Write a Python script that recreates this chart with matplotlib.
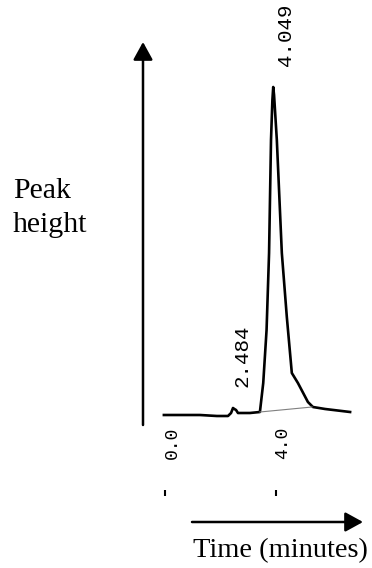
import numpy as np
import matplotlib
matplotlib.use('Agg')
import matplotlib.pyplot as plt
from matplotlib import transforms

# chromatogram trace (time in minutes, signal in arbitrary units)
time = [-0.04, 1.26, 1.87, 2.27, 2.38, 2.45, 2.50, 2.56, 2.63, 3.06, 3.42, 3.54,
        3.66, 3.75, 3.82, 3.87, 3.90, 3.93, 4.03, 4.21, 4.39, 4.57, 4.79, 5.15,
        5.33, 5.77, 6.67]
signal = [0, 0, -1, -1, 2, 7, 6, 5, 2, 2, 3, 32,
          85, 162, 275, 315, 328, 320, 275, 162, 98, 42, 32, 13,
          8, 6, 3]

# integration baseline under the main peak
base_time = [3.42, 5.30]
base_signal = [3, 8]

# retention times printed above the peaks
peak_times = [2.484, 4.049]
peak_labels = ['2.484', '4.049']

tick_values = [0, 4]
tick_labels = ['0.0', '4.0']

W, H = 372, 568
fig = plt.figure(figsize=(W / 100, H / 100), dpi=100)
ax = fig.add_axes([0, 0, 1, 1])
ax.axis('off')

# 27.75 px per minute, 1 px per signal unit; t=0 at x=165 px, signal 0 at y=415 px
px_per_min = 27.75
ax.set_xlim(-165 / px_per_min, (W - 165) / px_per_min)
ax.set_ylim(-(H - 415), 415)

ax.plot(time, signal, color='black', lw=1.9, solid_joinstyle='round')
ax.plot(base_time, base_signal, color='#808080', lw=0.8)

t_arr = np.array(time)
s_arr = np.array(signal)
for rt, lab in zip(peak_times, peak_labels):
    window = np.abs(t_arr - rt) < 0.2
    apex = s_arr[window].max()
    ax.annotate(lab, xy=(rt, apex), xytext=(5.8, 15), textcoords='offset points',
                rotation=90, ha='center', va='bottom', fontsize=15,
                family='Liberation Mono', color='black')

# tick labels sit above their tick marks, slightly to the right
blend = transforms.blended_transform_factory(ax.transData, fig.transFigure)
shift = transforms.ScaledTranslation(0.07, 0, fig.dpi_scale_trans)
for v, lab in zip(tick_values, tick_labels):
    ax.text(v, 1 - 459 / H, lab, transform=blend + shift, rotation=90,
            ha='center', va='bottom', fontsize=13, family='Liberation Mono')
    ax.plot([v, v], [1 - 490 / H, 1 - 496 / H], transform=blend,
            color='black', lw=1.5, solid_capstyle='butt')

arrow = dict(arrowstyle='-|>,head_length=0.4,head_width=0.22', color='black',
             lw=1.8, mutation_scale=27, shrinkA=0, shrinkB=0)
ax.annotate('', xy=(143 / W, 1 - 42 / H), xytext=(143 / W, 1 - 425 / H),
            xycoords='figure fraction', textcoords='figure fraction', arrowprops=arrow)
ax.annotate('', xy=(363 / W, 1 - 522 / H), xytext=(192 / W, 1 - 522 / H),
            xycoords='figure fraction', textcoords='figure fraction', arrowprops=arrow)

fig.text(13 / W, 1 - 198 / H, 'Peak', fontsize=21.5, family='Liberation Serif',
         ha='left', va='baseline')
fig.text(13 / W, 1 - 232 / H, 'height', fontsize=21.5, family='Liberation Serif',
         ha='left', va='baseline')
fig.text(280 / W, 1 - 557 / H, 'Time (minutes)', fontsize=20.5,
         family='Liberation Serif', ha='center', va='baseline')

fig.savefig('out.png', dpi=100, facecolor='white')
